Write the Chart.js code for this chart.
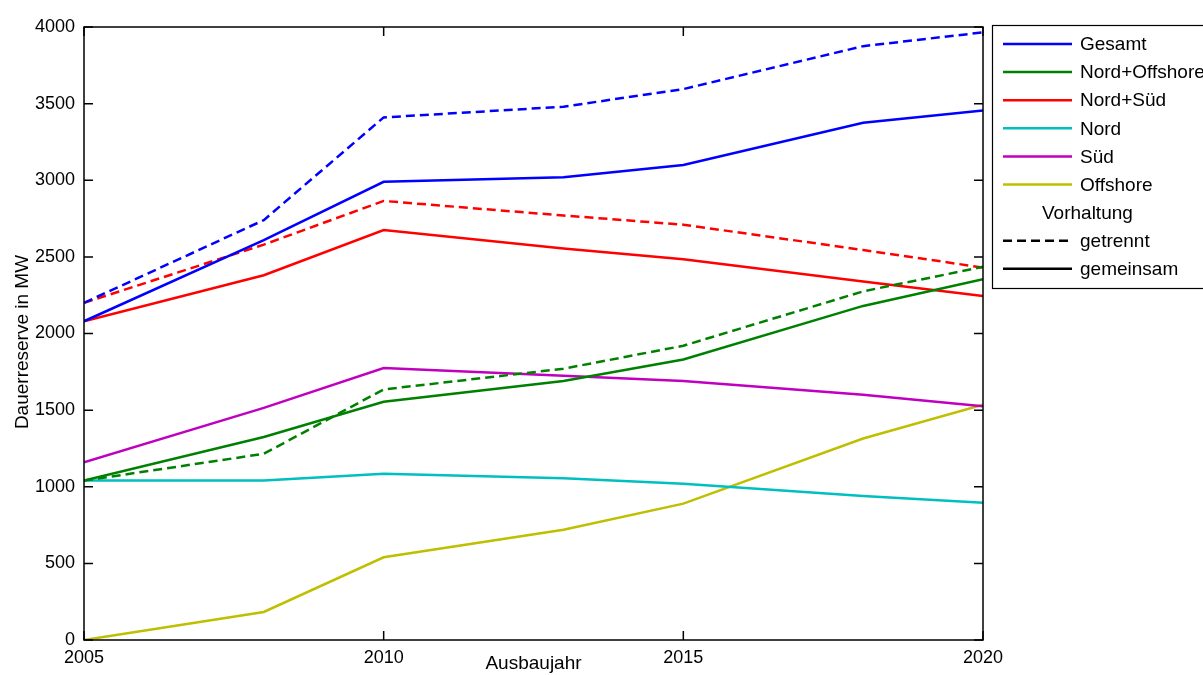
<!DOCTYPE html>
<html>
<head>
<meta charset="utf-8">
<script src="https://cdn.jsdelivr.net/npm/chart.js@4/dist/chart.umd.min.js"></script>
<style>
  html, body { margin: 0; padding: 0; background: #ffffff; }
  #wrap { width: 1203px; height: 675px; }
</style>
</head>
<body>
<div id="wrap"><canvas id="c" width="1203" height="675"></canvas></div>
<script>
// Ausbaujahre mit Stützstellen
const years = [2005, 2008, 2010, 2013, 2015, 2018, 2020];

// Dauerreserve in MW, getrennte bzw. gemeinsame Vorhaltung
const gesamtGetrennt     = [2200, 2740, 3410, 3480, 3595, 3875, 3965];
const gesamtGemeinsam    = [2080, 2610, 2990, 3020, 3100, 3375, 3455];
const nordOffGetrennt    = [1040, 1215, 1635, 1770, 1920, 2275, 2435];
const nordOffGemeinsam   = [1040, 1325, 1555, 1690, 1830, 2180, 2355];
const nordSuedGetrennt   = [2200, 2580, 2865, 2770, 2710, 2545, 2430];
const nordSuedGemeinsam  = [2080, 2380, 2675, 2555, 2485, 2340, 2245];
const nord               = [1040, 1040, 1085, 1055, 1020, 940, 895];
const sued               = [1160, 1515, 1775, 1725, 1690, 1600, 1525];
const offshore           = [0, 183, 540, 720, 890, 1315, 1535];

const xTicks = [2005, 2010, 2015, 2020];
const yTicks = [0, 500, 1000, 1500, 2000, 2500, 3000, 3500, 4000];

const seriesNames = ['Gesamt', 'Nord+Offshore', 'Nord+Süd', 'Nord', 'Süd', 'Offshore'];
const styleNames = ['getrennt', 'gemeinsam'];
const legendTitle = 'Vorhaltung';

const colors = {
  blue: '#0000ff', green: '#008000', red: '#ff0000',
  cyan: '#00bfbf', magenta: '#bf00bf', yellow: '#bfbf00'
};
const seriesColors = [colors.blue, colors.green, colors.red, colors.cyan, colors.magenta, colors.yellow];
const DASH = [9, 5];

function pts(vals) { return years.map((y, i) => ({ x: y, y: vals[i] })); }

function line(label, vals, color, dashed) {
  return {
    label, data: pts(vals), borderColor: color, backgroundColor: color,
    borderWidth: 2.5, borderDash: dashed ? DASH : [], pointRadius: 0,
    tension: 0, fill: false
  };
}

const datasets = [
  line('Gesamt getrennt', gesamtGetrennt, colors.blue, true),
  line('Gesamt gemeinsam', gesamtGemeinsam, colors.blue, false),
  line('Nord+Offshore getrennt', nordOffGetrennt, colors.green, true),
  line('Nord+Offshore gemeinsam', nordOffGemeinsam, colors.green, false),
  line('Nord+Süd getrennt', nordSuedGetrennt, colors.red, true),
  line('Nord+Süd gemeinsam', nordSuedGemeinsam, colors.red, false),
  line('Nord', nord, colors.cyan, false),
  line('Süd', sued, colors.magenta, false),
  line('Offshore', offshore, colors.yellow, false)
];

const FONT = 'Arial, "Liberation Sans", sans-serif';

// Achsenrahmen mit Innenstrichen auf allen vier Seiten, Achsentitel und Legende
const framePlugin = {
  id: 'frame',
  afterDraw(chart) {
    const ctx = chart.ctx;
    const a = chart.chartArea;
    const xs = chart.scales.x, ys = chart.scales.y;
    const TL = 9;
    ctx.save();
    ctx.strokeStyle = '#000';
    ctx.lineWidth = 1.5;
    ctx.strokeRect(a.left, a.top, a.right - a.left, a.bottom - a.top);
    ctx.beginPath();
    ys.ticks.forEach(t => {
      const py = ys.getPixelForValue(t.value);
      ctx.moveTo(a.left, py); ctx.lineTo(a.left + TL, py);
      ctx.moveTo(a.right, py); ctx.lineTo(a.right - TL, py);
    });
    xs.ticks.forEach(t => {
      const px = xs.getPixelForValue(t.value);
      ctx.moveTo(px, a.bottom); ctx.lineTo(px, a.bottom - TL);
      ctx.moveTo(px, a.top); ctx.lineTo(px, a.top + TL);
    });
    ctx.stroke();

    // y-Achsentitel
    ctx.fillStyle = '#000';
    ctx.font = '19px ' + FONT;
    ctx.textAlign = 'center';
    ctx.textBaseline = 'middle';
    ctx.save();
    ctx.translate(23, 342);
    ctx.rotate(-Math.PI / 2);
    ctx.fillText('Dauerreserve in MW', 0, 0);
    ctx.restore();

    // Legende
    const bx = 992, by = 25, bw = 240, bh = 263;
    ctx.fillStyle = '#fff';
    ctx.fillRect(bx, by, bw, bh);
    ctx.strokeStyle = '#000';
    ctx.lineWidth = 1.2;
    ctx.strokeRect(bx + 0.5, by + 0.5, bw, bh);
    ctx.font = '19px ' + FONT;
    ctx.textAlign = 'left';
    ctx.textBaseline = 'middle';
    const x0 = 1003, x1 = 1072, tx = 1080;
    let y = 44;
    const step = 28.1;
    seriesNames.forEach((name, i) => {
      ctx.strokeStyle = seriesColors[i];
      ctx.lineWidth = 2.5;
      ctx.setLineDash([]);
      ctx.beginPath(); ctx.moveTo(x0, y); ctx.lineTo(x1, y); ctx.stroke();
      ctx.fillStyle = '#000';
      ctx.fillText(name, tx, y + 1);
      y += step;
    });
    ctx.fillStyle = '#000';
    ctx.fillText(legendTitle, 1042, y + 1);
    y += step;
    styleNames.forEach((name, i) => {
      ctx.strokeStyle = '#000';
      ctx.lineWidth = 2.5;
      ctx.setLineDash(i === 0 ? DASH : []);
      ctx.beginPath(); ctx.moveTo(x0, y); ctx.lineTo(x1, y); ctx.stroke();
      ctx.setLineDash([]);
      ctx.fillText(name, tx, y + 1);
      y += step;
    });
    ctx.restore();
  }
};

new Chart(document.getElementById('c'), {
  type: 'line',
  data: { datasets },
  options: {
    responsive: false,
    animation: false,
    devicePixelRatio: 1,
    layout: { padding: { top: 27, right: 220, bottom: 0, left: 0 } },
    plugins: { legend: { display: false }, tooltip: { enabled: false } },
    scales: {
      x: {
        type: 'linear', min: 2005, max: 2020,
        afterFit: s => { s.height = 35; },
        afterBuildTicks: s => { s.ticks = xTicks.map(v => ({ value: v })); },
        grid: { display: false, drawTicks: false },
        border: { display: false },
        ticks: {
          color: '#000', font: { size: 18, family: FONT }, padding: 7,
          maxRotation: 0, callback: v => String(v)
        },
        title: {
          display: true, text: 'Ausbaujahr', color: '#000',
          font: { size: 19, family: FONT }, padding: { top: 0, bottom: 0 }
        }
      },
      y: {
        type: 'linear', min: 0, max: 4000,
        afterFit: s => { s.width = 84; },
        afterBuildTicks: s => { s.ticks = yTicks.map(v => ({ value: v })); },
        grid: { display: false, drawTicks: false },
        border: { display: false },
        ticks: {
          color: '#000', font: { size: 18, family: FONT }, padding: 9,
          callback: v => String(v)
        }
      }
    }
  },
  plugins: [framePlugin]
});
</script>
</body>
</html>
